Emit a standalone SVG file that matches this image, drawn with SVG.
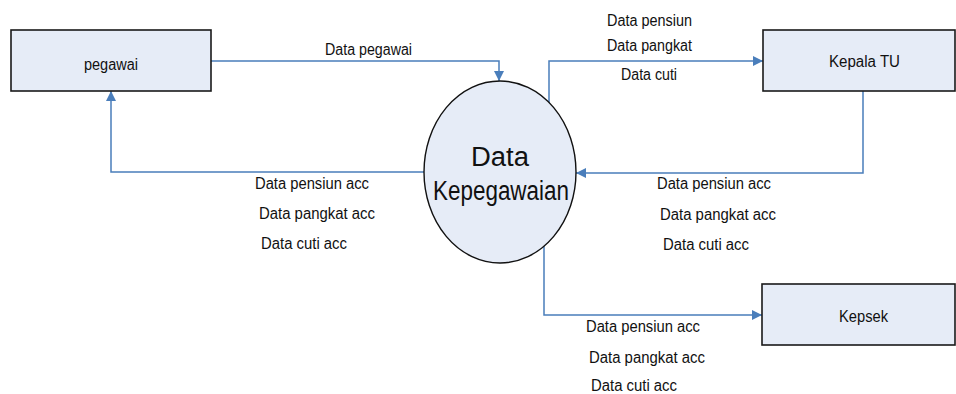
<svg xmlns="http://www.w3.org/2000/svg" width="956" height="394" viewBox="0 0 956 394">
<style>
.box{fill:#e6ecf7;stroke:#1a1a1a;stroke-width:1.6}
.proc{fill:#e6ecf7;stroke:#111;stroke-width:1.4}
.lbl{font-family:"Liberation Sans",Arial,sans-serif;font-size:16px;fill:#111}
.big{font-family:"Liberation Sans",Arial,sans-serif;font-size:27px;fill:#111;text-anchor:middle}
.mid{text-anchor:middle}
.con{fill:none;stroke:#4a7ebb;stroke-width:1.5}
</style>
<defs>
<marker id="arrB" viewBox="0 0 10 10" refX="10" refY="5" markerWidth="10" markerHeight="10" markerUnits="userSpaceOnUse" orient="auto">
<path d="M0,0 L10,5 L0,10 z" fill="#4a7ebb"/>
</marker>
</defs>
<g id="connectors">
<path class="con" d="M211,61 H499 V81" marker-end="url(#arrB)"/>
<path class="con" d="M549,103 V61 H763" marker-end="url(#arrB)"/>
<path class="con" d="M863,91 V173 H576" marker-end="url(#arrB)"/>
<path class="con" d="M424,172 H111 V91" marker-end="url(#arrB)"/>
<path class="con" d="M544,246 V315 H762" marker-end="url(#arrB)"/>
</g>
<g id="labels">
<text class="lbl" x="325" y="55" textLength="87" lengthAdjust="spacingAndGlyphs">Data pegawai</text>
<text class="lbl" x="607" y="26" textLength="85" lengthAdjust="spacingAndGlyphs">Data pensiun</text>
<text class="lbl" x="607" y="51" textLength="85" lengthAdjust="spacingAndGlyphs">Data pangkat</text>
<text class="lbl" x="621" y="80" textLength="56" lengthAdjust="spacingAndGlyphs">Data cuti</text>
<text class="lbl" x="255" y="189" textLength="114" lengthAdjust="spacingAndGlyphs">Data pensiun acc</text>
<text class="lbl" x="259" y="219" textLength="116" lengthAdjust="spacingAndGlyphs">Data pangkat acc</text>
<text class="lbl" x="261" y="249" textLength="86" lengthAdjust="spacingAndGlyphs">Data cuti acc</text>
<text class="lbl" x="657" y="189" textLength="114" lengthAdjust="spacingAndGlyphs">Data pensiun acc</text>
<text class="lbl" x="660" y="220" textLength="116" lengthAdjust="spacingAndGlyphs">Data pangkat acc</text>
<text class="lbl" x="663" y="250" textLength="86" lengthAdjust="spacingAndGlyphs">Data cuti acc</text>
<text class="lbl" x="586" y="332" textLength="114" lengthAdjust="spacingAndGlyphs">Data pensiun acc</text>
<text class="lbl" x="589" y="363" textLength="116" lengthAdjust="spacingAndGlyphs">Data pangkat acc</text>
<text class="lbl" x="591" y="391" textLength="86" lengthAdjust="spacingAndGlyphs">Data cuti acc</text>
</g>
<g id="pegawai">
<rect class="box" x="11" y="30" width="200" height="61"/>
<text class="lbl mid" x="111" y="70" textLength="54" lengthAdjust="spacingAndGlyphs">pegawai</text>
</g>
<g id="kepala-tu">
<rect class="box" x="763" y="30" width="192" height="61"/>
<text class="lbl mid" x="864.5" y="67" textLength="71" lengthAdjust="spacingAndGlyphs">Kepala TU</text>
</g>
<g id="kepsek">
<rect class="box" x="762" y="284" width="193" height="61"/>
<text class="lbl mid" x="863.5" y="322" textLength="49" lengthAdjust="spacingAndGlyphs">Kepsek</text>
</g>
<g id="data-kepegawaian">
<ellipse class="proc" cx="500" cy="172" rx="76" ry="91"/>
<text class="big" x="500" y="166" textLength="58" lengthAdjust="spacingAndGlyphs">Data</text>
<text class="big" x="501" y="200" textLength="136" lengthAdjust="spacingAndGlyphs">Kepegawaian</text>
</g>
</svg>
